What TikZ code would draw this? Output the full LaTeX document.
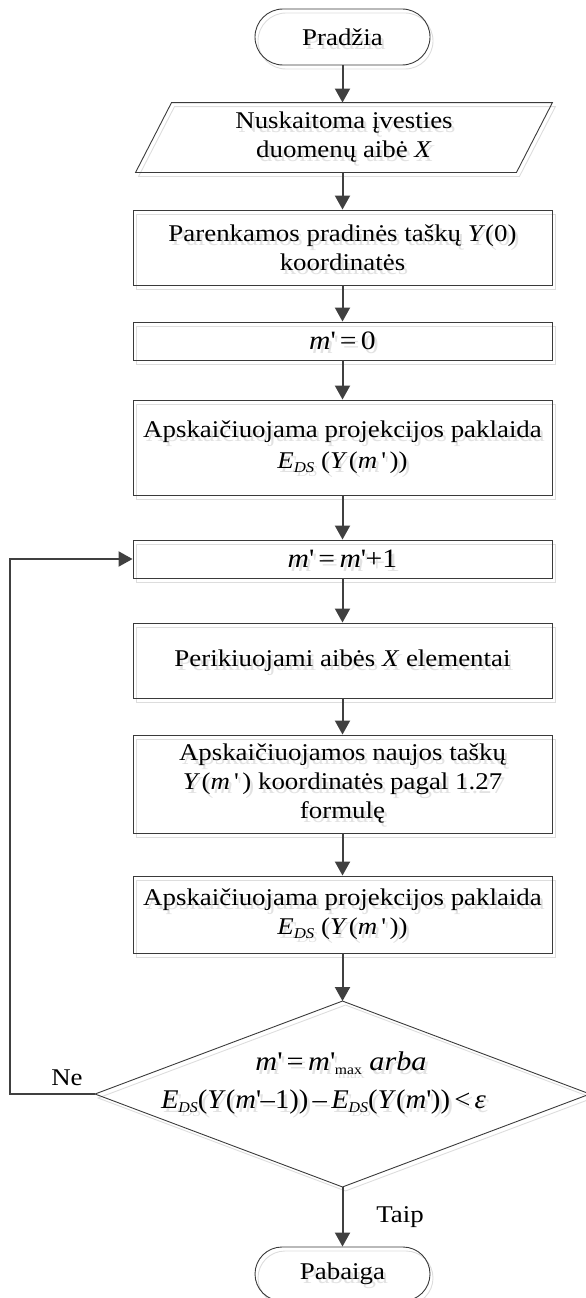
\documentclass[tikz,border=0pt]{standalone}
\usepackage{graphicx}
\usepackage{fontspec}
\setmainfont{Liberation Serif}[FakeStretch=1.12]
\usetikzlibrary{arrows.meta,shapes.misc}

\definecolor{outline}{HTML}{3A3A3A}
\definecolor{flowline}{HTML}{404040}
\definecolor{ghostline}{HTML}{DDDDDD}
\definecolor{ghosttext}{HTML}{E2E2E2}

% straight prime and lowered subscripts
\newcommand\mprime{\textquotesingle}
\newcommand\lowsub[2][15]{\raisebox{-0.35ex}{\fontsize{#1}{#1}\selectfont #2}}
\newcommand\Eds{\textit{E}\lowsub{\textit{DS}}}

\tikzset{
  shapebase/.style={line width=0.9pt, align=center, inner sep=0pt,
    font=\fontsize{24}{29}\selectfont},
  termbox/.style={shapebase, rounded rectangle, minimum width=175pt, minimum height=56pt},
  procbox/.style={shapebase, rectangle, minimum width=419pt},
  plainbox/.style={shapebase, rectangle, draw=none},
  mathfont/.style={font=\fontsize{26.5}{30}\selectfont},
  flow/.style={draw=flowline, line width=2pt,
    -{Triangle[width=15pt,length=14pt]}},
  label/.style={font=\fontsize{24}{29}\selectfont, inner sep=0pt}
}

% All shapes of the chart; drawn once as a soft shadow and once on top.
% #1 name prefix, #2 outline colour, #3 text colour
\newcommand\flowshapes[3]{%
  \node[termbox, draw=#2, text=#3] (#1start) at (342.5,37) {Pradžia};
  \node[plainbox, text=#3, minimum width=380pt, minimum height=69pt] (#1input) at (344,137.5)
    {Nuskaitoma įvesties\\duomenų aibė \textit{X}};
  \draw[#2, line width=0.9pt] ([xshift=18pt]#1input.north west) -- ([xshift=18pt]#1input.north east)
    -- ([xshift=-18pt]#1input.south east) -- ([xshift=-18pt]#1input.south west) -- cycle;
  \node[procbox, draw=#2, text=#3, minimum height=75pt] (#1init) at (342.5,247.5)
    {Parenkamos pradinės taškų \textit{Y}(0)\\koordinatės};
  \node[procbox, draw=#2, text=#3, minimum height=38pt, mathfont] (#1zero) at (342.5,341)
    {\textit{m}\mprime\,=\,0};
  \node[procbox, draw=#2, text=#3, minimum height=95pt] (#1err) at (342.5,447.5)
    {Apskaičiuojama projekcijos paklaida\\[2pt]\Eds\ (\textit{Y\,}(\textit{m\,}\mprime\,))};
  \node[procbox, draw=#2, text=#3, minimum height=38pt, mathfont] (#1inc) at (342.5,559)
    {\textit{m}\mprime\,=\,\textit{m}\mprime+1};
  \node[procbox, draw=#2, text=#3, minimum height=75pt] (#1sort) at (342.5,660.5)
    {Perikiuojami aibės \textit{X} elementai};
  \node[procbox, draw=#2, text=#3, minimum height=98pt] (#1coord) at (342.5,784)
    {Apskaičiuojamos naujos taškų\\\textit{Y\,}(\textit{m\,}\mprime\,) koordinatės pagal 1.27\\formulę};
  \node[procbox, draw=#2, text=#3, minimum height=77pt] (#1err2) at (342.5,914.5)
    {Apskaičiuojama projekcijos paklaida\\\Eds\ (\textit{Y\,}(\textit{m\,}\mprime\,))};
  \node[plainbox, minimum width=494pt, minimum height=185pt] (#1test) at (342.5,1094) {};
  \draw[#2, line width=0.9pt] (#1test.north) -- (#1test.east) -- (#1test.south) -- (#1test.west) -- cycle;
  \node[plainbox, text=#3, font=\fontsize{27}{30}\selectfont] (#1testa) at (341,1063)
    {\textit{m}\mprime\,=\,\textit{m}\mprime\lowsub[14]{max}\ \textit{arba}};
  \node[plainbox, text=#3, font=\fontsize{27}{30}\selectfont] (#1testb) at (323.5,1102)
    {\resizebox{325pt}{\height}{\Eds(\textit{Y}(\textit{m}\mprime–1))\,–\,\Eds(\textit{Y}(\textit{m}\mprime))\,<\,\textit{ε}}};
  \node[termbox, draw=#2, text=#3, minimum height=54pt] (#1stop) at (342.5,1274) {Pabaiga};
}

\begin{document}
\begin{tikzpicture}[x=1pt,y=-1pt]
  \useasboundingbox (0,0) rectangle (586,1298);

  % soft shadow layer
  \begin{scope}[shift={(3,4)}]
    \flowshapes{g}{ghostline}{ghosttext}
  \end{scope}

  % main shapes
  \flowshapes{}{outline}{black}

  % connectors
  \draw[flow] (start.south) -- (start.south |- input.north);
  \draw[flow] (start.south |- input.south) -- (start.south |- init.north);
  \draw[flow] (start.south |- init.south) -- (start.south |- zero.north);
  \draw[flow] (start.south |- zero.south) -- (start.south |- err.north);
  \draw[flow] (start.south |- err.south) -- (start.south |- inc.north);
  \draw[flow] (start.south |- inc.south) -- (start.south |- sort.north);
  \draw[flow] (start.south |- sort.south) -- (start.south |- coord.north);
  \draw[flow] (start.south |- coord.south) -- (start.south |- err2.north);
  \draw[flow] (start.south |- err2.south) -- (test.north);
  \draw[flow] (test.south) -- (test.south |- stop.north);

  % loop back on "Ne"
  \coordinate (back) at (10,1094);
  \draw[flow] (test.west) -- (back) |- (inc.west);

  \node[label] (ne) at (67,1078) {Ne};
  \node[label] (taip) at (400,1217) {Taip};
\end{tikzpicture}
\end{document}
